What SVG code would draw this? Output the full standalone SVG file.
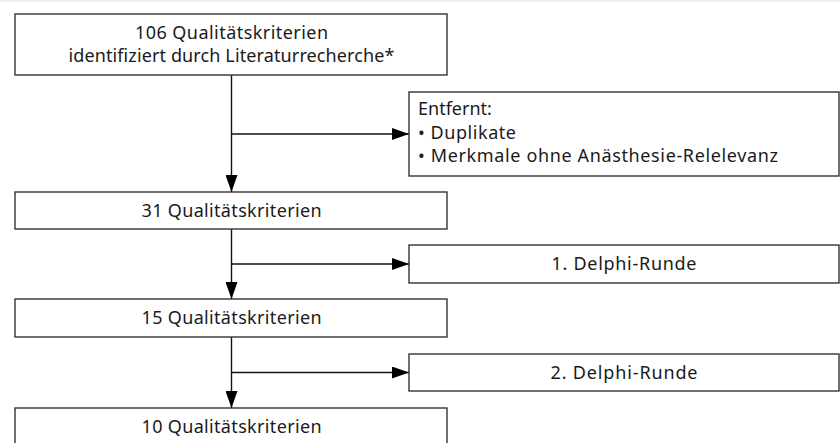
<svg xmlns="http://www.w3.org/2000/svg" width="840" height="443" viewBox="0 0 840 443">
  <defs>
    <style>
      .box { fill: #ffffff; stroke: #333333; stroke-width: 1.4; }
      .line { fill: none; stroke: #111111; stroke-width: 1.4; }
      .t { font-family: "Noto Sans", "Open Sans", "Liberation Sans", sans-serif; font-size: 18px; fill: #1a1a1a; }
      .c { text-anchor: middle; }
    </style>
    <marker id="arrow" viewBox="0 0 17 12" refX="17" refY="6" markerWidth="17" markerHeight="12" markerUnits="userSpaceOnUse" orient="auto">
      <path d="M0,0 L17,6 L0,12 Z" fill="#000000"/>
    </marker>
  </defs>
  <rect x="0" y="0" width="840" height="443" fill="#ffffff"/>
  <rect x="0" y="0" width="840" height="2" fill="#eeeeee"/>

  <g id="connectors">
    <line class="line" x1="231.5" y1="75" x2="231.5" y2="192" marker-end="url(#arrow)"/>
    <line class="line" x1="231.5" y1="134" x2="409" y2="134" marker-end="url(#arrow)"/>
    <line class="line" x1="231.5" y1="229" x2="231.5" y2="299" marker-end="url(#arrow)"/>
    <line class="line" x1="231.5" y1="264" x2="409" y2="264" marker-end="url(#arrow)"/>
    <line class="line" x1="231.5" y1="337" x2="231.5" y2="408" marker-end="url(#arrow)"/>
    <line class="line" x1="231.5" y1="372.5" x2="409" y2="372.5" marker-end="url(#arrow)"/>
  </g>

  <g id="node-106">
    <rect class="box" x="15" y="14" width="432" height="61"/>
    <text class="t c" x="231.5" y="39" textLength="193">106 Qualitätskriterien</text>
    <text class="t c" x="231.5" y="62" textLength="326">identifiziert durch Literaturrecherche*</text>
  </g>

  <g id="node-entfernt">
    <rect class="box" x="409" y="92" width="430" height="84"/>
    <text class="t" x="418" y="115">Entfernt:</text>
    <text class="t" x="418" y="139" textLength="98">• Duplikate</text>
    <text class="t" x="418" y="162" textLength="360">• Merkmale ohne Anästhesie-Relelevanz</text>
  </g>

  <g id="node-31">
    <rect class="box" x="15" y="192" width="432" height="37"/>
    <text class="t c" x="231.5" y="217" textLength="180">31 Qualitätskriterien</text>
  </g>

  <g id="node-delphi1">
    <rect class="box" x="409" y="245" width="430" height="38"/>
    <text class="t c" x="624" y="270" textLength="145">1. Delphi-Runde</text>
  </g>

  <g id="node-15">
    <rect class="box" x="15" y="299" width="432" height="38"/>
    <text class="t c" x="231.5" y="324" textLength="180">15 Qualitätskriterien</text>
  </g>

  <g id="node-delphi2">
    <rect class="box" x="409" y="354" width="430" height="37"/>
    <text class="t c" x="624" y="379" textLength="147">2. Delphi-Runde</text>
  </g>

  <g id="node-10">
    <rect class="box" x="15" y="408" width="432" height="40"/>
    <text class="t c" x="231.5" y="433" textLength="180">10 Qualitätskriterien</text>
  </g>
</svg>
